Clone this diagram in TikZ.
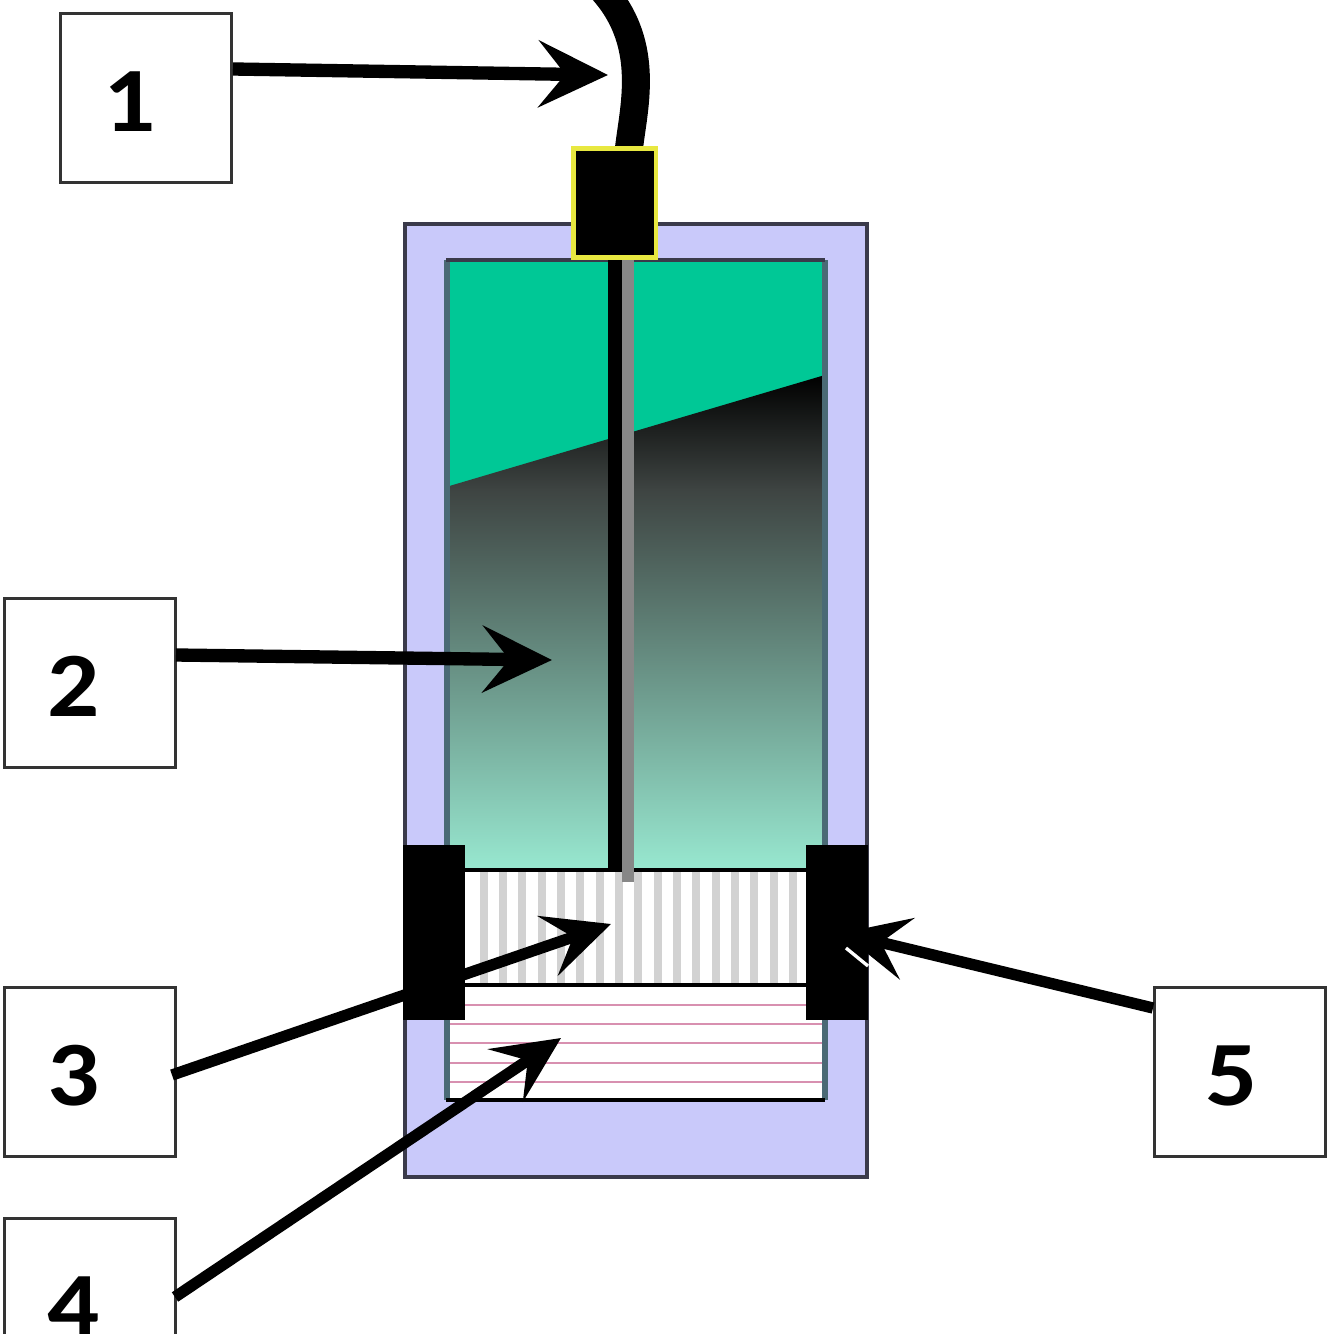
\documentclass[tikz,border=0pt]{standalone}
\usepackage{fontspec}
\setmainfont[BoldFeatures={FakeStretch=1.12}]{Carlito}
\usetikzlibrary{arrows.meta}
\definecolor{lav}{HTML}{C9C9FA}
\definecolor{teal1}{HTML}{00C896}
\definecolor{teal2}{HTML}{98E8D0}
\definecolor{gmid}{HTML}{3E4442}
\definecolor{edgeg}{HTML}{3A3A4A}
\definecolor{edgei}{HTML}{4A6A75}
\definecolor{pinkl}{HTML}{D890B0}
\definecolor{stripeg}{HTML}{D2D2D2}
\definecolor{yel}{HTML}{E8E840}
\tikzset{
  numbox/.style={draw=black!80,line width=2.2pt,fill=white,minimum width=128pt,minimum height=127pt,inner sep=0pt,outer sep=0pt,font=\fontsize{69}{69}\selectfont\bfseries},
  ptr/.style={line width=10pt,draw=black,-{Stealth[length=52pt,width=50pt,inset=20pt]}},
  ptrb/.style={line width=8.5pt,draw=black,-{Stealth[length=50pt,width=47pt,inset=20pt]}},
  block/.style={fill=black,draw=none},
}
\newcommand{\dg}[2][25pt]{\raisebox{-2.5pt}[\height][0pt]{#2}\kern#1\null}
\begin{document}
\begin{tikzpicture}[x=0.75pt,y=-0.75pt]
\useasboundingbox (0,0) rectangle (1334,1334);
\clip (0,0) rectangle (1334,1334);
% housing
\draw[fill=lav,draw=edgeg,line width=2.5pt] (405,224) rectangle (867,1177);
% upper chamber
\fill[teal1] (446,260) rectangle (825,870);
\begin{scope}
  \clip (446,487) -- (825,375) -- (825,870) -- (446,870) -- cycle;
  \shade[top color=black,bottom color=gmid,shading angle=0] (446,375) rectangle (825,490);
  \shade[top color=gmid,bottom color=teal2,shading angle=0] (446,489.5) rectangle (825,870);
\end{scope}
% stripes
\fill[white] (446,870) rectangle (825,1100);
\foreach \x in {484,503,522,542,561,580,600,619,638,658,677,696,716,735,754,774,793}
  \fill[stripeg] (\x-4,872) rectangle (\x+4,985);
\foreach \y in {1005,1024,1043,1063,1082}
  \draw[pinkl,line width=1.8pt] (446,\y) -- (825,\y);
\draw[edgei,line width=4.5pt] (447,260) -- (447,1100) (825,1100) -- (825,260);
\draw[edgeg,line width=3pt] (446,260) -- (825,260);
\draw[black,line width=2.5pt] (446,870) -- (825,870);
\draw[black,line width=3pt] (446,985) -- (825,985);
\draw[black,line width=3pt] (446,1100) -- (825,1100);
% rod
\fill[black] (608,260) rectangle (623,870);
\fill[black!47] (622,260) rectangle (634,882);
% clamps
\fill[block] (403,845) rectangle (465,1020);
\fill[block] (806,845) rectangle (868,1020);
% cable
\coordinate (cabA) at (629,148);
\coordinate (cabB) at (598,-15);
\draw[black,line width=21pt] (cabA) .. controls (634,105) and (652,40) .. (cabB);
% connector
\node[draw=yel,fill=black,line width=3.5pt,minimum width=62pt,minimum height=82pt,inner sep=0pt] (conn) at (614.5,203) {};
% boxes
\node[numbox] (n1) at (146,98) {\dg{1}};
\node[numbox] (n2) at (90,683) {\dg{2}};
\node[numbox] (n3) at (90,1072) {\dg{3}};
\node[numbox] (n4) at (90,1303) {\dg{4}};
\node[numbox] (n5) at (1240,1072) {\dg[12pt]{5}};
% pointers
\coordinate (s1) at (233,69);   \coordinate (t1) at (608,75);
\coordinate (s2) at (176,655);  \coordinate (t2) at (552,660);
\coordinate (s3) at (172,1075); \coordinate (t3) at (611,924);
\coordinate (s4) at (175,1297); \coordinate (t4) at (561,1038);
\coordinate (s5) at (1153,1008);\coordinate (t5) at (842,933);
\draw[ptr] (s1) -- (t1);
\draw[ptr] (s2) -- (t2);
\draw[ptrb] (s3) -- (t3);
\draw[ptrb] (s4) -- (t4);
\draw[ptrb] (s5) -- (t5);
\draw[white,line width=2.5pt] (846,948) -- (868,966);
\end{tikzpicture}
\end{document}
